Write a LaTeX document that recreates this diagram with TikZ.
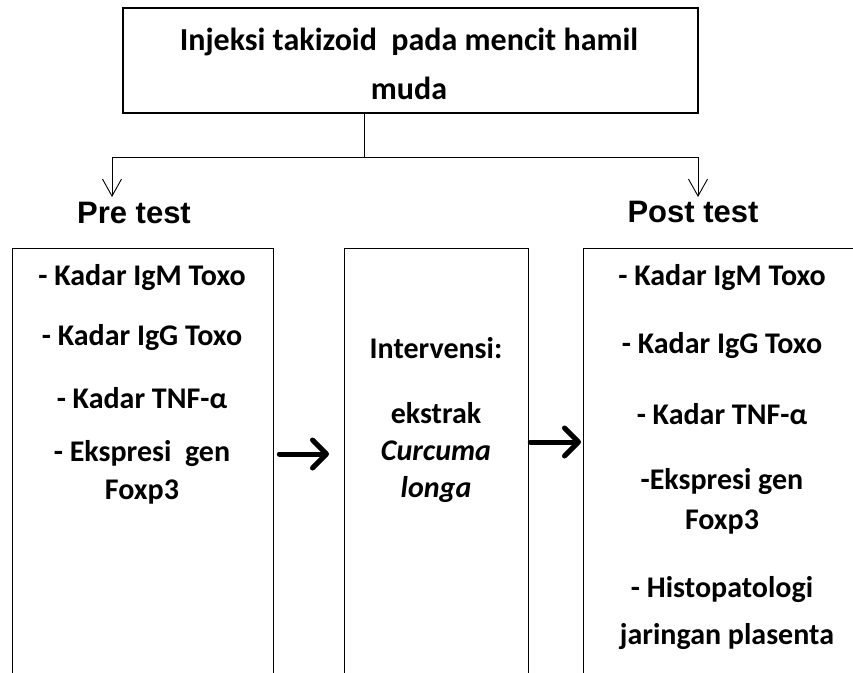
\documentclass[tikz,border=0pt]{standalone}
\usepackage{fontspec}
\setmainfont{Carlito}
\newfontfamily\arialfont{Liberation Sans}
\usetikzlibrary{arrows.meta}
\usetikzlibrary{positioning}

\begin{document}
\begin{tikzpicture}[x=1pt,y=-1pt,
    topbox/.style={draw,line width=2.6pt,minimum width=575pt,minimum height=105pt},
    colbox/.style={draw,line width=1.3pt,anchor=north west,inner sep=0pt,minimum height=480pt},
    txt/.style={font=\bfseries\fontsize{30}{36}\selectfont,inner sep=0pt},
    toptxt/.style={font=\bfseries\fontsize{32}{38}\selectfont,inner sep=0pt},
    phase/.style={font=\arialfont\bfseries\fontsize{31}{37}\selectfont,anchor=base,inner sep=0pt},
    conn/.style={line width=0.9pt,-{Straight Barb[length=17pt,width=19pt]}},
    bigarrow/.style={line width=5pt,line cap=round,-{Straight Barb[round,length=14pt,width=28pt]}}]

  \useasboundingbox (0,0) rectangle (853,672);
  \clip (0,0) rectangle (853,672);

  % top box
  \node[topbox] (inj) at (410.5,60.5) {};
  \node[toptxt] (inj1) at (409,42) {Injeksi takizoid\ \ pada mencit hamil};
  \node[toptxt] (inj2) at (409,88) {muda};

  % split to the two test phases
  \coordinate (fork) at (364,157);
  \coordinate (pretip) at (112,197);
  \coordinate (posttip) at (698,197);
  \draw[line width=0.9pt] (inj.south -| fork) -- (fork);
  \draw[conn] (fork) -| (pretip);
  \draw[conn] (fork) -| (posttip);

  \node[phase] (pretest) at (134,223) {Pre test};
  \node[phase] (posttest) at (693,222) {Post test};

  % the three columns
  \node[colbox,minimum width=261pt] (pre) at (12,248) {};
  \node[colbox,minimum width=184pt] (mid) at (344,248) {};
  \node[colbox,minimum width=300pt] (post) at (583,248) {};

  \node[txt] (preA) at (142,278) {- Kadar IgM Toxo};
  \node[txt] (preB) at (142,338) {- Kadar IgG Toxo};
  \node[txt] (preC) at (142,398) {- Kadar TNF-α};
  \node[txt] (preD) at (142,454) {- Ekspresi\ \ gen};
  \node[txt] (preE) at (142,492) {Foxp3};

  \node[txt] (midA) at (436,348) {Intervensi:};
  \node[txt] (midB) at (436,413) {ekstrak};
  \node[txt] (midC) at (436,451) {\itshape Curcuma};
  \node[txt] (midD) at (436,489) {\itshape longa};

  \node[txt] (postA) at (722,278) {- Kadar IgM Toxo};
  \node[txt] (postB) at (722,346) {- Kadar IgG Toxo};
  \node[txt] (postC) at (722,414) {- Kadar TNF-α};
  \node[txt] (postD) at (722,482) {-Ekspresi gen};
  \node[txt] (postE) at (722,522) {Foxp3};
  \node[txt] (postF) at (722,590) {- Histopatologi};
  \node[txt] (postG) at (727,637) {jaringan plasenta};

  % thick arrows between the columns
  \coordinate (la) at (0,454);
  \coordinate (ra) at (0,442);
  \draw[bigarrow] ([xshift=5pt]pre.east |- la) -- ([xshift=-15pt]mid.west |- la);
  \draw[bigarrow] ([xshift=1pt]mid.east |- ra) -- ([xshift=-2pt]post.west |- ra);
\end{tikzpicture}
\end{document}
